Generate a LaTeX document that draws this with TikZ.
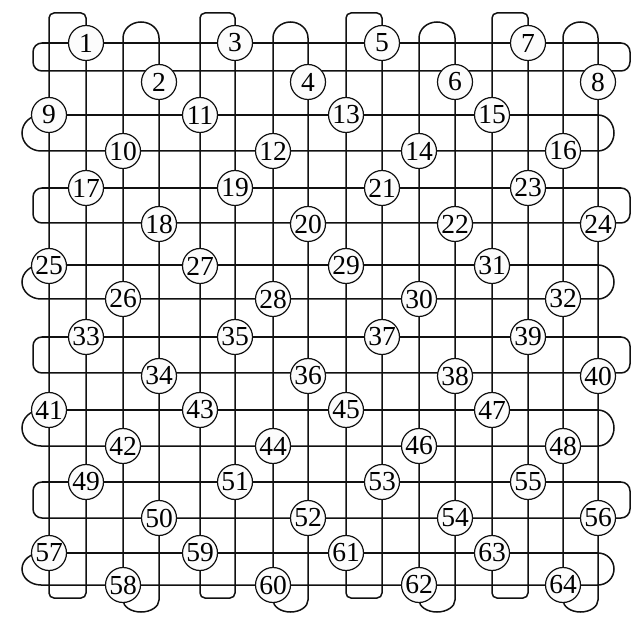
\documentclass[tikz,border=0pt]{standalone}
\usepackage{fontspec}
\setmainfont{Liberation Serif}
\usepackage{xcolor}
\definecolor{ink}{HTML}{111111}
\definecolor{paper}{HTML}{FCFCFC}
\begin{document}
\begin{tikzpicture}[x=1pt, y=1pt, yscale=-1,
    every node/.style={font=\fontsize{27.5}{27.5}\selectfont},
    cell/.style={circle, draw=ink, fill=paper, line width=1.2pt, minimum size=35pt, inner sep=0pt},
    thinline/.style={color=ink, line width=1.5pt},
    thickline/.style={color=ink, line width=2.9pt}]
  \useasboundingbox (0,0) rectangle (635,620);
  % vertical strands, two at a time
  \draw[thinline, rounded corners=5] (49,300) -- (49,13) -- (86,13) -- (86,598) -- (49,598) -- cycle;
  \draw[thinline] (123,300) -- (123,38) arc[start angle=180, end angle=360, x radius=18, y radius=16] -- (159,600) arc[start angle=0, end angle=180, x radius=18, y radius=12] -- cycle;
  \draw[thinline, rounded corners=5] (200,300) -- (200,13) -- (235,13) -- (235,598) -- (200,598) -- cycle;
  \draw[thinline] (273,300) -- (273,38) arc[start angle=180, end angle=360, x radius=17.5, y radius=16] -- (308,600) arc[start angle=0, end angle=180, x radius=17.5, y radius=12] -- cycle;
  \draw[thinline, rounded corners=5] (346,300) -- (346,13) -- (382,13) -- (382,598) -- (346,598) -- cycle;
  \draw[thinline] (419,300) -- (419,38) arc[start angle=180, end angle=360, x radius=18, y radius=16] -- (455,600) arc[start angle=0, end angle=180, x radius=18, y radius=12] -- cycle;
  \draw[thinline, rounded corners=5] (492,300) -- (492,13) -- (528,13) -- (528,598) -- (492,598) -- cycle;
  \draw[thinline] (563,300) -- (563,38) arc[start angle=180, end angle=360, x radius=17.5, y radius=16] -- (598,600) arc[start angle=0, end angle=180, x radius=17.5, y radius=12] -- cycle;
  % horizontal strands, two at a time
  \draw[thinline, rounded corners=9] (49,43) -- (33,43) -- (33,71) -- (630,71) -- (630,43) -- (598,43);
  \draw[thickline] (42,43) -- (621,43);
  \draw[thinline] (49,115) -- (41,115) arc[start angle=270, end angle=90, x radius=19, y radius=18] -- (598,151) arc[start angle=90, end angle=-90, x radius=16, y radius=18];
  \draw[thickline] (49,115) -- (598,115);
  \draw[thinline, rounded corners=9] (49,188) -- (33,188) -- (33,223) -- (630,223) -- (630,188) -- (598,188);
  \draw[thickline] (42,188) -- (621,188);
  \draw[thinline] (49,265) -- (41,265) arc[start angle=270, end angle=90, x radius=19, y radius=17] -- (598,299) arc[start angle=90, end angle=-90, x radius=16, y radius=17];
  \draw[thickline] (49,265) -- (598,265);
  \draw[thinline, rounded corners=9] (49,337) -- (33,337) -- (33,373) -- (630,373) -- (630,337) -- (598,337);
  \draw[thickline] (42,337) -- (621,337);
  \draw[thinline] (49,410) -- (41,410) arc[start angle=270, end angle=90, x radius=19, y radius=18] -- (598,446) arc[start angle=90, end angle=-90, x radius=16, y radius=18];
  \draw[thickline] (49,410) -- (598,410);
  \draw[thinline, rounded corners=9] (49,482) -- (33,482) -- (33,518) -- (630,518) -- (630,482) -- (598,482);
  \draw[thickline] (42,482) -- (621,482);
  \draw[thinline] (49,553) -- (41,553) arc[start angle=270, end angle=90, x radius=19, y radius=16] -- (598,585) arc[start angle=90, end angle=-90, x radius=16, y radius=16];
  \draw[thickline] (49,553) -- (598,553);
  % numbered crossings
  \def\colx{{49,86,123,159,200,235,273,308,346,382,419,455,492,528,563,598}}
  \def\rowy{{43,82,115,151,188,224,266,299,337,376,410,446,482,518,553,585}}
  \foreach \k in {1,...,64} {
    \pgfmathtruncatemacro\r{int((\k-1)/8)}
    \pgfmathtruncatemacro\c{mod(\k-1,8)}
    \pgfmathtruncatemacro\vi{2*\c+1-mod(\r,2)}
    \pgfmathtruncatemacro\hi{2*\r+mod(\c,2)}
    \pgfmathsetmacro\px{\colx[\vi]}
    \pgfmathsetmacro\py{\rowy[\hi]}
    \node[cell] (n\k) at (\px,\py) {\k};
  }
\end{tikzpicture}
\end{document}
